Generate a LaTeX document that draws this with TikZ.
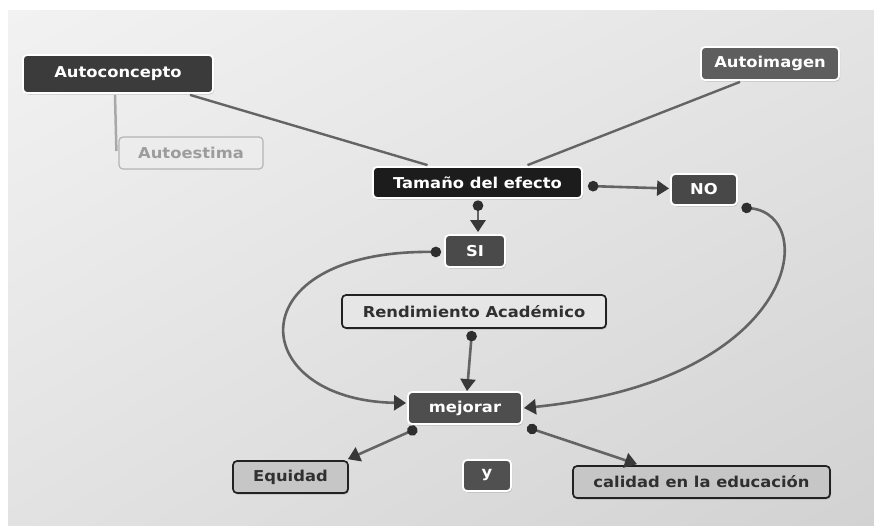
\documentclass[tikz,border=0pt]{standalone}
\usepackage{fontspec}
\setmainfont{DejaVu Sans}[FakeStretch=1.09]
\usetikzlibrary{arrows.meta,calc,shadows,shadings}
\definecolor{bgA}{HTML}{F2F2F2}
\definecolor{bgB}{HTML}{E4E4E4}
\definecolor{bgC}{HTML}{E2E2E2}
\definecolor{bgD}{HTML}{D2D2D2}
\definecolor{lineg}{HTML}{646464}
\definecolor{dotc}{HTML}{2E2E2E}
\definecolor{tipc}{HTML}{383838}
\definecolor{boxline}{HTML}{222222}
\definecolor{ltext}{HTML}{303030}
\definecolor{cAuto}{HTML}{3B3B3B}
\definecolor{cImg}{HTML}{5E5E5E}
\definecolor{cTam}{HTML}{1C1C1C}
\definecolor{cNo}{HTML}{484848}
\definecolor{cSi}{HTML}{4A4A4A}
\definecolor{cMej}{HTML}{4E4E4E}
\definecolor{cY}{HTML}{505050}
\definecolor{cRend}{HTML}{E6E6E6}
\definecolor{cEq}{HTML}{C6C6C6}
\definecolor{cEst}{HTML}{ECECEC}
\definecolor{cEstLine}{HTML}{B4B4B4}
\definecolor{cEstText}{HTML}{9C9C9C}
\definecolor{cEstConn}{HTML}{A8A8A8}
\begin{document}
\begin{tikzpicture}[x=1pt,y=-1pt,
  box/.style={rounded corners=4pt, inner sep=0pt,
    font=\bfseries\fontsize{15}{18}\selectfont,
    drop shadow={shadow xshift=1pt,shadow yshift=-1.5pt,opacity=0.35}},
  dbox/.style={box, draw=white, line width=1.8pt, text=white},
  lbox/.style={box, draw=boxline, line width=1.7pt, text=ltext},
  conn/.style={draw=lineg, line width=2.6pt,
    arrows={Circle[length=10.5pt,color=dotc]-Triangle[length=12pt,width=15pt,color=tipc]}},
  plainline/.style={draw=lineg, line width=2.4pt},
]
\useasboundingbox (0,0) rectangle (874,525);
\fill[white] (0,0) rectangle (874,525);
\shade[upper left=bgA, upper right=bgB, lower left=bgC, lower right=bgD] (8,10) rectangle (874,525);

% nodes
\node[dbox, fill=cAuto, minimum width=190pt, minimum height=38pt] (auto) at (118,74) {Autoconcepto};
\node[rounded corners=4pt, inner sep=0pt, font=\bfseries\fontsize{15}{18}\selectfont,
  draw=cEstLine, line width=1.2pt, fill=cEst, text=cEstText,
  minimum width=144pt, minimum height=32pt] (estima) at (191,153) {Autoestima};
\node[dbox, fill=cImg, minimum width=138pt, minimum height=33pt] (imagen) at (770,63.5) {Autoimagen};
\node[dbox, fill=cTam, minimum width=209pt, minimum height=31pt] (tam) at (477.5,182.5) {Tamaño del efecto};
\node[dbox, fill=cNo, minimum width=66pt, minimum height=31pt] (no) at (704,189.5) {NO};
\node[dbox, fill=cSi, minimum width=60pt, minimum height=32pt] (si) at (475,251) {SI};
\node[lbox, fill=cRend, minimum width=264pt, minimum height=33pt] (rend) at (474,311.5) {Rendimiento Académico};
\node[dbox, fill=cMej, minimum width=114pt, minimum height=32pt] (mej) at (465,408) {mejorar};
\node[lbox, fill=cEq, minimum width=115pt, minimum height=32pt] (eq) at (290.5,477) {Equidad};
\node[dbox, fill=cY, minimum width=48pt, minimum height=31pt] (yy) at (487,475.5) {y};
\node[lbox, fill=cEq, minimum width=257pt, minimum height=32pt] (cal) at (701.5,482) {calidad en la educación};

% connectors
\draw[draw=cEstConn, line width=2.5pt] ($(auto.south)+(-3,1)$) -- ($(estima.west)+(-2,-2)$);
\draw[plainline] ($(auto.south)+(72,1)$) -- ($(tam.north)+(-50,-1)$);
\draw[plainline] ($(imagen.south)+(-30,1)$) -- ($(tam.north)+(50,-1)$);
\draw[conn] ($(tam.east)+(5,3.5)$) -- ($(no.west)+(-1,-1)$);
\draw[conn] ($(tam.south)+(0.5,1.5)$) -- ($(si.north)+(3,-2)$);
\draw[conn] ($(si.west)+(-3,1)$) .. controls (235,250) and (245,400) .. ($(mej.west)+(-1,-5)$);
\draw[conn] ($(no.south east)+(3.5,1.5)$) .. controls (820,215) and (800,380) .. ($(mej.east)+(1,0)$);
\draw[conn] ($(rend.south)+(-2,2)$) -- ($(mej.north)+(2,0)$);
\draw[conn] ($(mej.south west)+(10,3.4)$) -- ($(eq.north east)+(-1,-1)$);
\draw[conn] ($(mej.south east)+(4.2,2.4)$) -- ($(cal.north)+(-64.5,-1)$);
\end{tikzpicture}
\end{document}
